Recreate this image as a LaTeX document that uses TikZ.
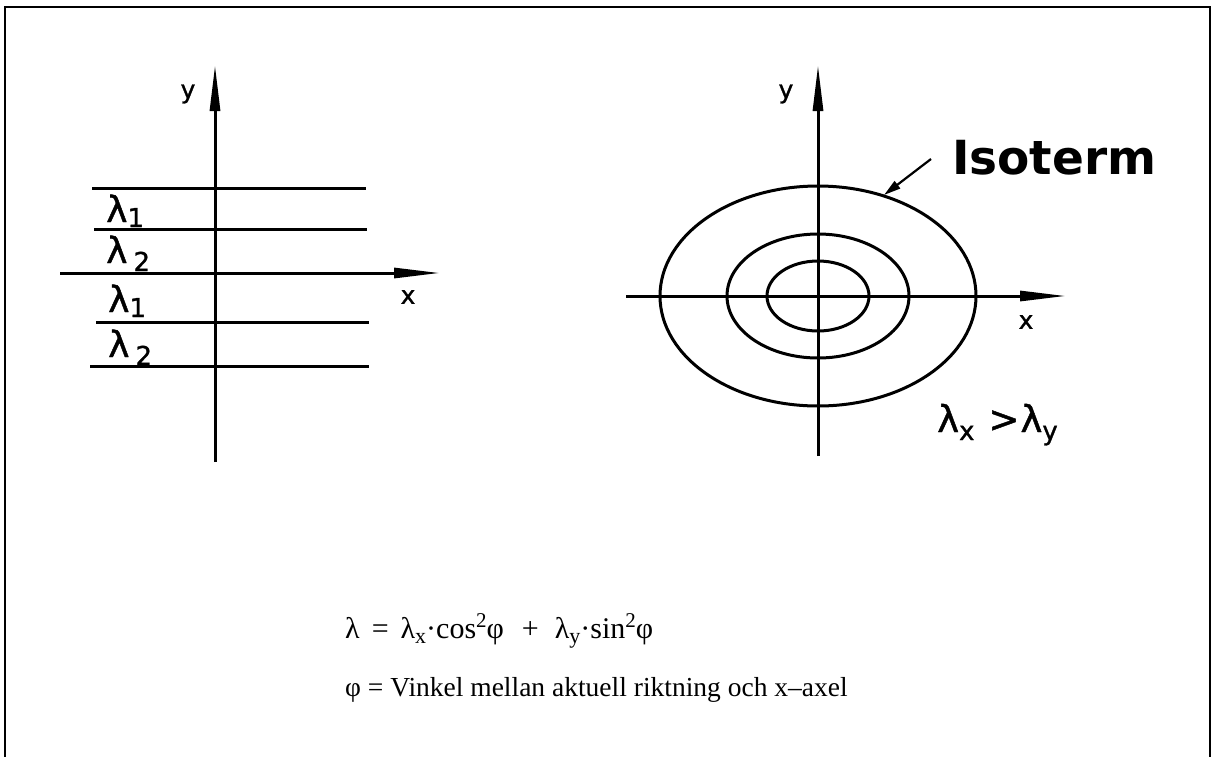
\documentclass[tikz,border=0pt]{standalone}
\usepackage{fontspec}
\setmainfont{Liberation Serif}
\newfontfamily\lab[FakeBold=1.2]{DejaVu Sans}
\newfontfamily\labb{DejaVu Sans}
\usetikzlibrary{arrows.meta}
\newcommand{\sbx}[2]{\raisebox{#1}{\fontsize{26}{26}\selectfont #2}}
\newcommand{\fsub}[1]{\raisebox{-5pt}{\fontsize{22}{22}\selectfont #1}}
\newcommand{\fsup}[1]{\raisebox{11pt}{\fontsize{21}{21}\selectfont #1}}
\begin{document}
\begin{tikzpicture}[x=1pt,y=-1pt,
  axis/.style={line width=3pt,-{Triangle[length=46pt,width=10pt]}},
  stroke/.style={line width=3pt},
  lbl/.style={font=\lab\fontsize{25}{25}\selectfont,inner sep=0pt},
  lam/.style={font=\lab\fontsize{36}{36}\selectfont,inner sep=0pt,anchor=base west},
  formula/.style={font=\fontsize{27.5}{27.5}\selectfont,inner sep=0pt,anchor=base west}]
\useasboundingbox (0,0) rectangle (1213,756);
\draw[line width=2.2pt] (5,770) -- (5,7) -- (1210,7) -- (1210,770);
% left diagram
\coordinate (LYb) at (215,462);
\coordinate (LYt) at (215,65);
\coordinate (LXl) at (60,273);
\coordinate (LXr) at (440,273);
\draw[axis] (LYb) -- (LYt);
\draw[axis] (LXl) -- (LXr);
\foreach \n/\y/\a/\b in {a/188/92/366, b/229/94/367, c/322/96/369, d/366/90/369}{
  \coordinate (h\n l) at (\a,\y);
  \coordinate (h\n r) at (\b,\y);
  \draw[stroke] (h\n l) -- (h\n r);
}
\node[lbl] (ly) at (188,94) {y};
\node[lbl] (lx) at (408,297) {x};
\node[lam] (l1) at (106,222) {λ\sbx{-5pt}{1}};
\node[lam] (l2) at (106,263) {λ\hspace{6pt}\sbx{-8pt}{2}};
\node[lam] (l3) at (108,312) {λ\sbx{-5pt}{1}};
\node[lam] (l4) at (108,357) {λ\hspace{6pt}\sbx{-8pt}{2}};
% right diagram
\coordinate (O) at (818,296);
\coordinate (RYb) at (818,456);
\coordinate (RYt) at (818,65);
\coordinate (RXl) at (626,296);
\coordinate (RXr) at (1066,296);
\draw[stroke] (O) ellipse [x radius=158, y radius=110];
\draw[stroke] (O) ellipse [x radius=91, y radius=62];
\draw[stroke] (O) ellipse [x radius=51, y radius=35];
\draw[axis] (RYb) -- (RYt);
\draw[axis] (RXl) -- (RXr);
\node[lbl] (ry) at (786,94) {y};
\node[lbl] (rx) at (1026,322) {x};
\node[font=\labb\bfseries\fontsize{47}{47}\selectfont,inner sep=0pt,anchor=base west] (iso) at (952,174) {Isoterm};
\coordinate (isoS) at (931,159);
\coordinate (isoE) at (884,195);
\draw[line width=2.2pt,-{Triangle[length=17pt,width=9pt]}] (isoS) -- (isoE);
\node[font=\lab\fontsize{37}{37}\selectfont,inner sep=0pt,anchor=base west] (cmp) at (937,432)
  {λ\sbx{-8pt}{x}\hspace{14pt}>\hspace{1pt}λ\sbx{-8pt}{y}};
% formulas
\node[formula,font=\fontsize{30}{30}\selectfont] (f1) at (345,638) {λ\hspace{12pt}=\hspace{12pt}λ\fsub{x}·cos\fsup{2}φ\hspace{18pt}+\hspace{16pt}λ\fsub{y}·sin\fsup{2}φ};
\node[formula] (f2) at (345,696) {φ = Vinkel mellan aktuell riktning och x–axel};
\end{tikzpicture}
\end{document}
